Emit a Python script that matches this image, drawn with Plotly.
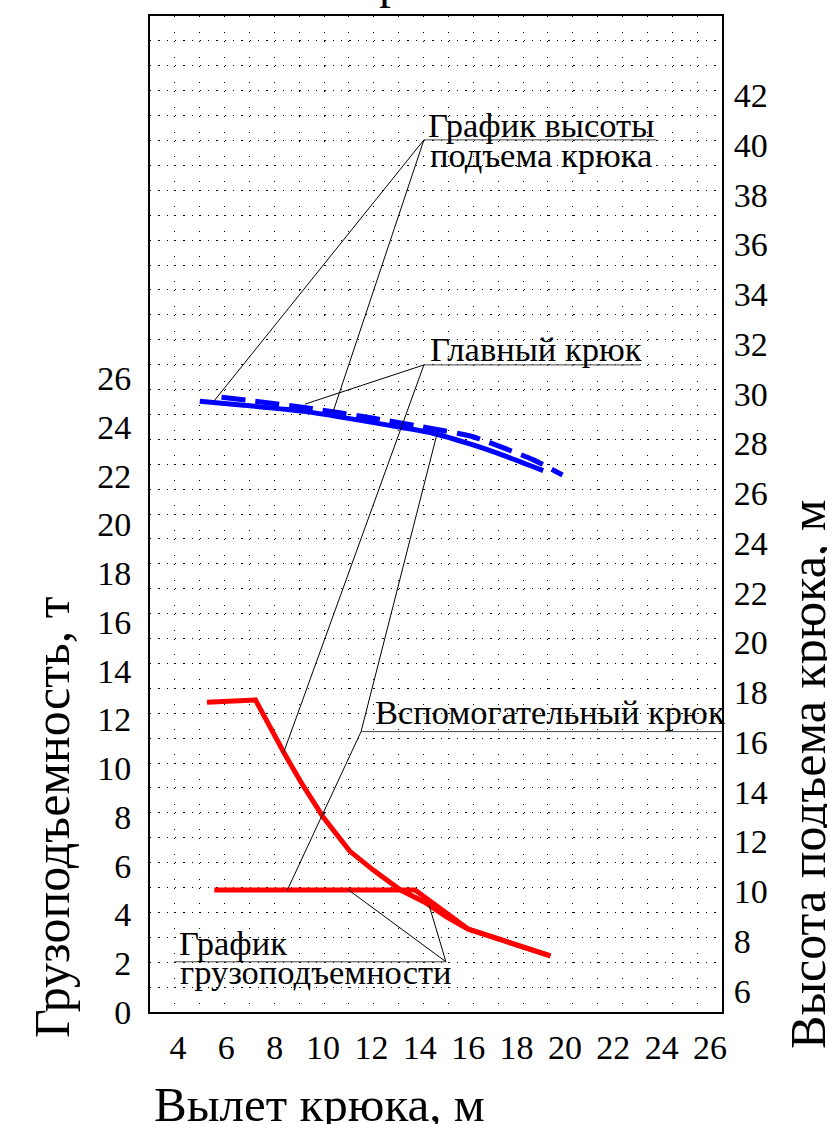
import plotly.graph_objects as go

# ---------------- data ----------------
# Main hook load capacity (t) vs outreach (m)
main_cap_x = [5.2, 7.2, 8.4, 9.1, 10.0, 11.1, 12.1, 13.2, 14.2, 15.1, 16.0, 19.4]
main_cap_y = [12.7, 12.8, 10.6, 9.4, 8.0, 6.6, 5.8, 5.0, 4.5, 3.9, 3.4, 2.3]
# Auxiliary hook load capacity (t)
aux_cap_x = [5.5, 13.8, 16.0, 19.4]
aux_cap_y = [5.0, 5.0, 3.4, 2.3]
# Main hook lifting height (m) - dashed
main_h_x = [5.8, 7.0, 9.3, 12.1, 14.1, 16.2, 17.6, 18.7, 19.9]
main_h_y = [29.86, 29.72, 29.44, 29.01, 28.67, 28.27, 27.77, 27.34, 26.73]
# Auxiliary hook lifting height (m) - solid
aux_h_x = [4.9, 6.6, 9.3, 13.2, 14.5, 16.2, 17.6, 19.1]
aux_h_y = [29.70, 29.55, 29.28, 28.65, 28.42, 27.94, 27.47, 26.91]

x_ticks = list(range(4, 27, 2))
cap_ticks = list(range(0, 27, 2))
h_ticks = list(range(6, 43, 2))

FONT = "Liberation Serif"

fig = go.Figure()

# invisible helpers for the dotted grid axes
fig.add_trace(go.Scatter(x=[None], y=[None], xaxis="x3", yaxis="y", showlegend=False, hoverinfo="skip"))
fig.add_trace(go.Scatter(x=[None], y=[None], xaxis="x", yaxis="y3", showlegend=False, hoverinfo="skip"))

fig.add_trace(go.Scatter(x=main_cap_x, y=main_cap_y, mode="lines",
                         line=dict(color="#ff0000", width=5), showlegend=False))
fig.add_trace(go.Scatter(x=aux_cap_x, y=aux_cap_y, mode="lines",
                         line=dict(color="#ff0000", width=5), showlegend=False))
fig.add_trace(go.Scatter(x=aux_h_x, y=aux_h_y, mode="lines", yaxis="y2",
                         line=dict(color="#0000ff", width=5, shape="spline", smoothing=0.6), showlegend=False))
fig.add_trace(go.Scatter(x=main_h_x, y=main_h_y, mode="lines", yaxis="y2",
                         line=dict(color="#0000ff", width=5, dash="24px,10px", shape="spline", smoothing=0.6),
                         showlegend=False))

# leader lines and underlines (in x / left-y coordinates)
leaders = [
    ((14.17, 35.77), (5.49, 25.06)),
    ((14.17, 35.77), (10.41, 24.61)),
    ((14.17, 26.54), (9.25, 24.93)),
    ((14.17, 26.54), (8.36, 10.62)),
    ((11.57, 11.50), (14.70, 23.67)),
    ((11.57, 11.50), (8.52, 5.0)),
    ((15.08, 2.06), (11.06, 5.0)),
    ((15.08, 2.06), (14.38, 4.39)),
]
for (x0, y0), (x1, y1) in leaders:
    fig.add_shape(type="line", xref="x", yref="y", x0=x0, y0=y0, x1=x1, y1=y1,
                  line=dict(color="black", width=1))
underlines = [
    (14.17, 23.77, 35.77),
    (14.17, 23.11, 26.54),
    (11.57, 26.5, 11.50),
    (3.85, 15.08, 2.06),
]
for x0, x1, y in underlines:
    fig.add_shape(type="line", xref="x", yref="y", x0=x0, y0=y, x1=x1, y1=y,
                  line=dict(color="#444444", width=1))

labels = [
    ("График высоты", 14.26, 36.40),
    ("подъема крюка", 14.34, 35.16),
    ("Главный крюк", 14.34, 27.20),
    ("Вспомогательный крюк", 12.08, 12.30),
    ("График", 3.96, 2.85),
    ("грузоподъемности", 4.0, 1.64),
]
for t, x, y in labels:
    fig.add_annotation(text=t, x=x, y=y, xref="x", yref="y", xanchor="left", yanchor="middle",
                       showarrow=False, font=dict(family=FONT, size=34.5, color="black"))

# axis titles
fig.add_annotation(text="Грузоподъемность, т", xref="paper", yref="paper", x=-0.1713, y=0.1958,
                   textangle=-90, showarrow=False, xanchor="center", yanchor="middle",
                   font=dict(family=FONT, size=50, color="black"))
fig.add_annotation(text="Высота подъема крюка, м", xref="paper", yref="paper", x=1.1503, y=0.2390,
                   textangle=-90, showarrow=False, xanchor="center", yanchor="middle",
                   font=dict(family=FONT, size=50, color="black"))
fig.add_annotation(text="Вылет крюка, м", xref="paper", yref="paper", x=0.2972, y=-0.0924,
                   showarrow=False, xanchor="center", yanchor="middle",
                   font=dict(family=FONT, size=49, color="black"))
# top title fragment (cut off by page edge)
fig.add_annotation(text="р", xref="paper", yref="paper", x=0.4213, y=1.035,
                   showarrow=False, xanchor="center", yanchor="middle",
                   font=dict(family=FONT, size=48, color="black"))

tickfont = dict(family=FONT, size=34, color="black")
fig.update_layout(
    width=827, height=1124,
    margin=dict(l=150, r=105, t=16, b=112),
    paper_bgcolor="white", plot_bgcolor="white",
    font=dict(family=FONT, color="black"),
    showlegend=False,
    xaxis=dict(range=[2.842, 26.496], tickvals=x_ticks, showgrid=False, zeroline=False,
               showline=True, mirror=True, linecolor="black", linewidth=2,
               ticks="outside", ticklen=4, tickcolor="rgba(0,0,0,0)", tickfont=tickfont),
    yaxis=dict(range=[0, 40.85], tickvals=cap_ticks, showgrid=False, zeroline=False,
               showline=True, mirror=True, linecolor="black", linewidth=2,
               ticks="outside", ticklen=10, tickcolor="rgba(0,0,0,0)", tickfont=tickfont),
    yaxis2=dict(range=[5.15, 45.18], tickvals=h_ticks, overlaying="y", side="right",
                showgrid=False, zeroline=False, showline=False,
                ticks="outside", ticklen=4, tickcolor="rgba(0,0,0,0)", tickfont=tickfont),
    xaxis3=dict(range=[0, 23], dtick=1, overlaying="x", side="top", showticklabels=False,
                ticks="", showgrid=True, gridcolor="black", gridwidth=1.3,
                griddash="1px,14.9px,1px,8px", zeroline=False, showline=False),
    yaxis3=dict(range=[0, 40], dtick=1, overlaying="y", side="left", showticklabels=False,
                ticks="", showgrid=True, gridcolor="black", gridwidth=1.3,
                griddash="1.3px,7px", zeroline=False, showline=False),
)

fig.write_html("out.html", config={"displayModeBar": False},
               post_script="document.body.style.margin='0px';document.body.style.overflow='hidden';")
